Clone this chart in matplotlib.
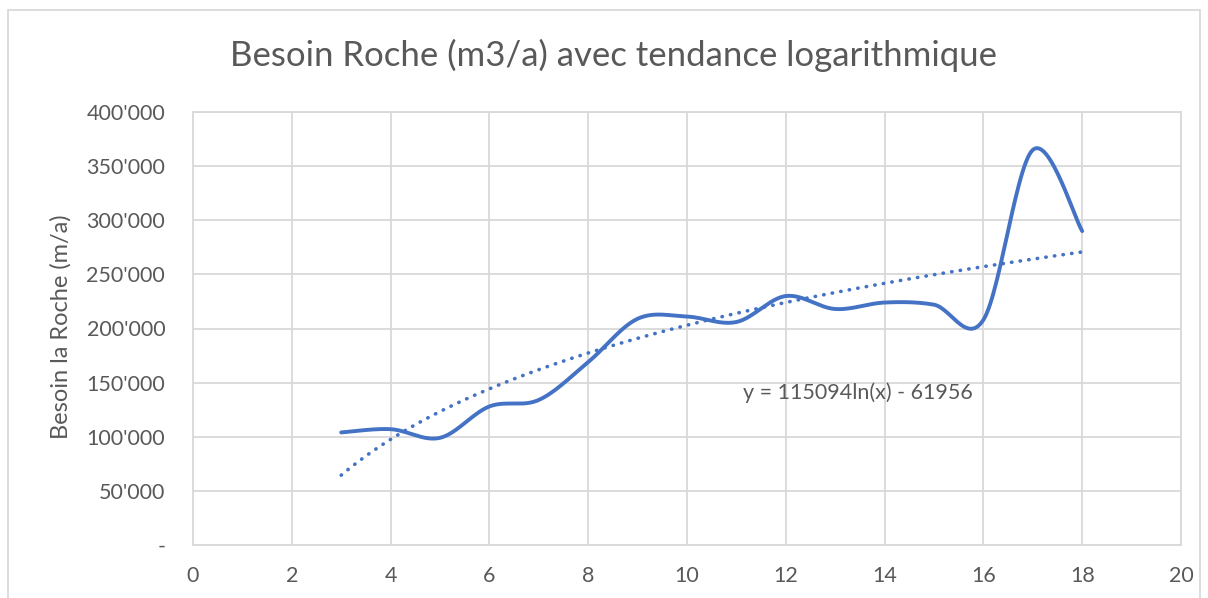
import numpy as np
import matplotlib.pyplot as plt
from matplotlib.patches import Rectangle
from matplotlib.ticker import FuncFormatter

# Data
annees = [3, 4, 5, 6, 7, 8, 9, 10, 11, 12, 13, 14, 15, 16, 17, 18]
besoin = [104000, 107000, 99000, 128000, 134000, 169000, 209000, 211000,
          206000, 230000, 218000, 224000, 222000, 208000, 365000, 290000]
coef_a = 115094
coef_b = -61956

plt.rcParams['font.family'] = ['Lato', 'DejaVu Sans']
bleu = '#4472C4'
gris = '#595959'


def catmull_rom(x, y, n=30):
    # smoothing similar to Excel's smoothed line
    x = np.asarray(x, float)
    y = np.asarray(y, float)
    px = np.concatenate([[x[0]], x, [x[-1]]])
    py = np.concatenate([[y[0]], y, [y[-1]]])
    xs, ys = [], []
    for i in range(1, len(px) - 2):
        p0, p1, p2, p3 = [np.array([px[j], py[j]]) for j in (i - 1, i, i + 1, i + 2)]
        c1 = p1 + (p2 - p0) / 6
        c2 = p2 - (p3 - p1) / 6
        t = np.linspace(0, 1, n)[:, None]
        pts = ((1 - t) ** 3) * p1 + 3 * ((1 - t) ** 2) * t * c1 + 3 * (1 - t) * t ** 2 * c2 + t ** 3 * p2
        xs.append(pts[:, 0])
        ys.append(pts[:, 1])
    return np.concatenate(xs), np.concatenate(ys)


fig = plt.figure(figsize=(12.08, 5.98), dpi=100)
ax = fig.add_axes([193 / 1208, 1 - 545 / 598, (1181 - 193) / 1208, (545 - 112) / 598])

sx, sy = catmull_rom(annees, besoin)
ax.plot(sx, sy, color=bleu, linewidth=2.8, solid_capstyle='round', zorder=3)

xt = np.linspace(annees[0], annees[-1], 200)
ax.plot(xt, coef_a * np.log(xt) + coef_b, color=bleu, linewidth=2.6,
        linestyle=(0, (0.1, 2.3)), dash_capstyle='round', zorder=3)

ax.set_xlim(0, 20)
ax.set_ylim(0, 400000)
ax.set_xticks(range(0, 21, 2))
ax.set_yticks(range(0, 400001, 50000))
ax.yaxis.set_major_formatter(FuncFormatter(
    lambda v, p: '-' if v == 0 else f"{int(v):,}".replace(',', "'")))
ax.grid(True, color='#D9D9D9', linewidth=1.3)
ax.set_axisbelow(True)
for s in ax.spines.values():
    s.set_color('#D9D9D9')
    s.set_linewidth(1.3)
ax.tick_params(length=0, labelsize=15.5, colors=gris)
ax.tick_params(axis='y', pad=20)
ax.tick_params(axis='x', pad=15)

ax.set_ylabel('Besoin la Roche (m/a)', fontsize=17, color=gris)
ax.yaxis.set_label_coords((72 - 193) / (1181 - 193), 0.505)
fig.text(614 / 1208, 1 - 55 / 598, 'Besoin Roche (m3/a) avec tendance logarithmique',
         fontsize=25, color=gris, ha='center', va='center')
ax.text(13.45, 141000, f'y = {coef_a}ln(x) - {abs(coef_b)}', fontsize=15.5,
        color=gris, ha='center', va='center')

fig.patches.append(Rectangle((8 / 1208, -0.1), (1200 - 8) / 1208, 1.1 - 10 / 598,
                             transform=fig.transFigure, fill=False,
                             edgecolor='#D9D9D9', linewidth=1.3))

fig.savefig('out.png', dpi=100, facecolor='white')
